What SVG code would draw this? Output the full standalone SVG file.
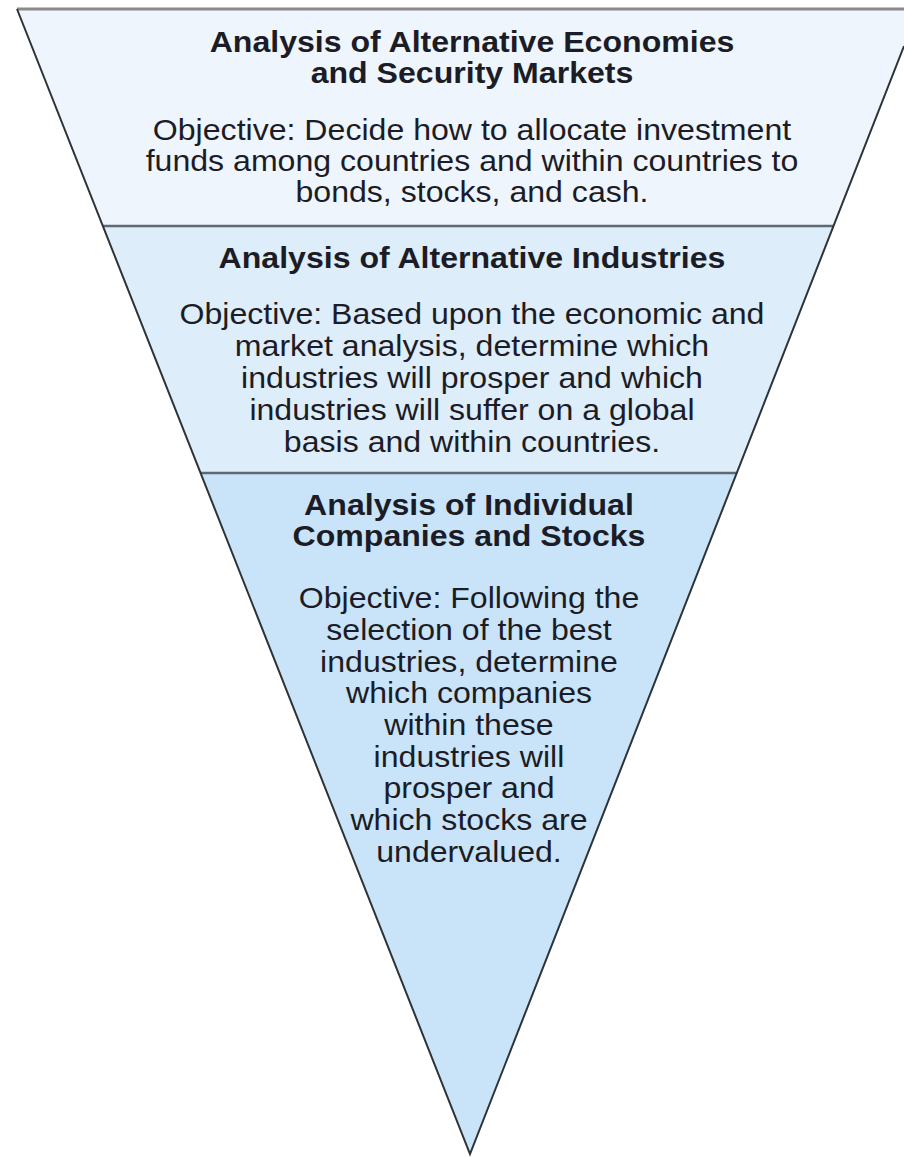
<svg xmlns="http://www.w3.org/2000/svg" width="904" height="1157" viewBox="0 0 904 1157">
<style>
text{font-family:"Liberation Sans",Arial,Helvetica,sans-serif;font-size:30px;fill:#1c1c26;text-anchor:middle}
.t{font-weight:bold}
.edge{stroke:#2e3338;stroke-width:2;fill:none}
.sep{stroke:#5d6a74;stroke-width:2.5;fill:none}
</style>
<rect width="904" height="1157" fill="#ffffff"/>
<g id="level1">
<polygon points="17,9 904,9 904,46 833.5,226 103,226" fill="#eef5fc"/>
<g transform="matrix(1.07,0,0,1,-33.04,0)">
<text class="t" x="472" y="52">Analysis of Alternative Economies</text>
<text class="t" x="472" y="83">and Security Markets</text>
<text x="472" y="140">Objective: Decide how to allocate investment</text>
<text x="472" y="171">funds among countries and within countries to</text>
<text x="472" y="202">bonds, stocks, and cash.</text>
</g>
</g>
<g id="level2">
<polygon points="103,226 833.5,226 737,473 201,473" fill="#ddedfa"/>
<g transform="matrix(1.07,0,0,1,-33.04,0)">
<text class="t" x="472" y="268">Analysis of Alternative Industries</text>
<text x="472" y="324">Objective: Based upon the economic and</text>
<text x="472" y="356">market analysis, determine which</text>
<text x="472" y="388">industries will prosper and which</text>
<text x="472" y="420">industries will suffer on a global</text>
<text x="472" y="452">basis and within countries.</text>
</g>
</g>
<g id="level3">
<polygon points="201,473 737,473 470,1154" fill="#c9e4f8"/>
<g transform="matrix(1.07,0,0,1,-32.83,0)">
<text class="t" x="469" y="515">Analysis of Individual</text>
<text class="t" x="469" y="546">Companies and Stocks</text>
<text x="469" y="608">Objective: Following the</text>
<text x="469" y="640">selection of the best</text>
<text x="469" y="672">industries, determine</text>
<text x="469" y="703">which companies</text>
<text x="469" y="735">within these</text>
<text x="469" y="767">industries will</text>
<text x="469" y="798">prosper and</text>
<text x="469" y="830">which stocks are</text>
<text x="469" y="862">undervalued.</text>
</g>
</g>
<g id="outlines">
<line x1="17" y1="9" x2="904" y2="9" stroke="#8a8a8a" stroke-width="3"/>
<line class="sep" x1="103" y1="226" x2="833.5" y2="226"/>
<line class="sep" x1="201" y1="473" x2="737" y2="473"/>
<polyline class="edge" points="17,9 470,1154 904,46"/>
</g>
</svg>
